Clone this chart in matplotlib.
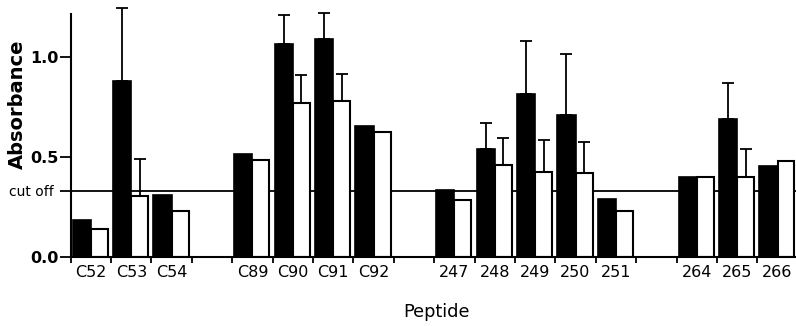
import matplotlib
matplotlib.use("Agg")
import matplotlib.pyplot as plt
import numpy as np

plt.rcParams['font.family'] = ['DejaVu Sans']

# slot labels (empty string = gap between groups)
categories = ["C52", "C53", "C54", "",
              "C89", "C90", "C91", "C92", "",
              "247", "248", "249", "250", "251", "",
              "264", "265", "266"]
black_vals = [0.185, 0.88, 0.31, np.nan,
              0.514, 1.061, 1.089, 0.655, np.nan,
              0.336, 0.54, 0.811, 0.71, 0.291, np.nan,
              0.40, 0.688, 0.454]
white_vals = [0.14, 0.306, 0.23, np.nan,
              0.482, 0.77, 0.78, 0.623, np.nan,
              0.284, 0.46, 0.425, 0.417, 0.228, np.nan,
              0.40, 0.40, 0.48]
black_err = [0, 0.36, 0, 0,
             0, 0.148, 0.128, 0, 0,
             0, 0.127, 0.265, 0.30, 0, 0,
             0, 0.18, 0]
white_err = [0, 0.185, 0, 0,
             0, 0.136, 0.135, 0, 0,
             0, 0.132, 0.157, 0.158, 0, 0,
             0, 0.14, 0]
cutoff = 0.33

fig = plt.figure(figsize=(7.96, 3.26), dpi=100)
ax = fig.add_axes([70.7/796, 69/326, 727/796, 242.6/326])

x = np.arange(len(categories))
bw, ww = 0.45, 0.42
bmask = ~np.isnan(black_vals)
bx = x[bmask]
bv = np.array(black_vals)[bmask]
wv = np.array(white_vals)[bmask]
be = np.array(black_err)[bmask]
we = np.array(white_err)[bmask]

ax.bar(bx - bw, bv, width=bw, align='edge', color='black', edgecolor='black', linewidth=1.2, zorder=2)
ax.bar(bx, wv, width=ww, align='edge', color='white', edgecolor='black', linewidth=1.5, zorder=2)

# upward error bars
for xi, v, e in zip(bx - bw/2, bv, be):
    if e > 0:
        ax.errorbar(xi, v, yerr=[[0], [e]], fmt='none', ecolor='black', elinewidth=1.3,
                    capsize=4, capthick=1.3, clip_on=False, zorder=3)
for xi, v, e in zip(bx + ww/2, wv, we):
    if e > 0:
        ax.errorbar(xi, v, yerr=[[0], [e]], fmt='none', ecolor='black', elinewidth=1.3,
                    capsize=4, capthick=1.3, clip_on=False, zorder=3)

ax.axhline(cutoff, color='black', lw=1.3, zorder=1, clip_on=False)

ax.set_xlim(-0.5, len(categories) - 0.5)
ax.set_ylim(0, 1.21)

for s in ['top', 'right']:
    ax.spines[s].set_visible(False)
for s in ['left', 'bottom']:
    ax.spines[s].set_linewidth(1.5)

ax.set_xticks(x)
ax.set_xticklabels(categories, fontsize=11.5)
ax.set_xticks(np.arange(-0.5, len(categories), 1), minor=True)
ax.tick_params(axis='x', which='major', length=0, pad=6)
ax.tick_params(axis='x', which='minor', length=4, width=1.3, direction='out')

ax.set_yticks([0.0, cutoff, 0.5, 1.0])
ax.set_yticklabels(["0.0", "cut off", "0.5", "1.0"], fontsize=11.5, fontweight='bold')
ax.tick_params(axis='y', length=8, width=1.3, pad=1)
lbls = ax.get_yticklabels()
lbls[1].set_fontweight('normal')
lbls[1].set_fontsize(10)
lbls[1].set_x(-0.006)

fig.text(17/796, 1 - 104/326, "Absorbance", rotation=90, fontsize=14, fontweight='bold',
         ha='center', va='center')
fig.text(436/796, 1 - 312/326, "Peptide", fontsize=12.8, ha='center', va='center')

fig.savefig("out.png", dpi=100)
